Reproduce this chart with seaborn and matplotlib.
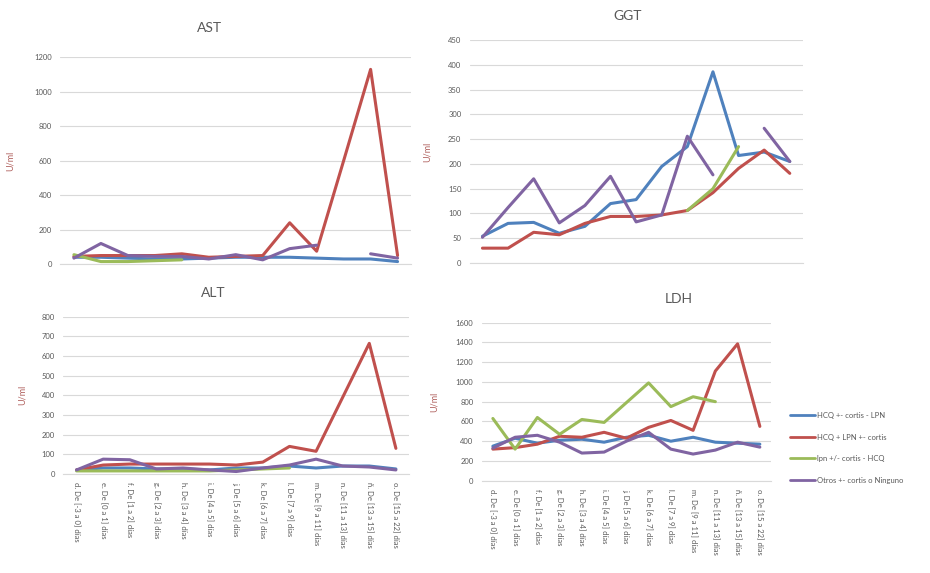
import numpy as np
import pandas as pd
import matplotlib
matplotlib.use("Agg")
import matplotlib.pyplot as plt
from matplotlib.lines import Line2D
import seaborn as sns

nan = np.nan

categories = ["d. De [-3 a 0] días", "e. De [0 a 1] días", "f. De [1 a 2] días",
              "g. De [2 a 3] días", "h. De [3 a 4] días", "i. De [4 a 5] días",
              "j. De [5 a 6] días", "k. De [6 a 7] días", "l. De [7 a 9] días",
              "m. De [9 a 11] días", "n. De [11 a 13] días", "ñ. De [13 a 15] días",
              "o. De [15 a 22] días"]

series_names = ["HCQ +- cortis - LPN", "HCQ + LPN +- cortis",
                "lpn +/- cortis - HCQ", "Otros +- cortis o Ninguno"]
series_colors = ["#4F81BD", "#C0504D", "#9BBB59", "#8064A2"]

ast_hcq = [40, 40, 35, 30, 30, 35, 40, 40, 40, 35, 30, 30, 15]
ast_hcq_lpn = [45, 50, 50, 50, 60, 40, 45, 50, 240, 75, 600, 1130, 50]
ast_lpn = [55, 15, 15, 20, 25, nan, nan, nan, nan, nan, nan, nan, nan]
ast_otros = [35, 120, 50, 45, 45, 30, 55, 25, 90, 110, nan, 60, 35]

ggt_hcq = [54, 80, 82, 60, 74, 120, 128, 195, 235, 386, 217, 224, 205]
ggt_hcq_lpn = [30, 30, 62, 57, 80, 94, 94, 97, 106, 142, 191, 228, 181]
ggt_lpn = [nan, nan, nan, nan, nan, nan, nan, nan, 106, 150, 235, nan, nan]
ggt_otros = [52, 112, 170, 81, 116, 175, 83, 97, 256, 178, nan, 272, 205]

alt_hcq = [20, 30, 30, 25, 25, 20, 30, 30, 40, 30, 40, 40, 25]
alt_hcq_lpn = [20, 45, 50, 50, 50, 50, 45, 60, 140, 115, 390, 665, 130]
alt_lpn = [15, 15, 15, 15, 15, 15, 20, 25, 30, nan, nan, nan, nan]
alt_otros = [20, 75, 72, 25, 30, 20, 12, 30, 45, 75, 40, 35, 20]

ldh_hcq = [350, 430, 380, 410, 420, 390, 440, 460, 400, 440, 390, 380, 370]
ldh_hcq_lpn = [320, 335, 370, 450, 440, 490, 430, 540, 610, 510, 1110, 1385, 550]
ldh_lpn = [630, 320, 640, 470, 620, 590, 790, 990, 750, 850, 800, nan, nan]
ldh_otros = [330, 440, 460, 390, 280, 290, 400, 490, 320, 270, 310, 390, 340]

sns.set_style("white")
plt.rcParams["font.family"] = ["Lato", "DejaVu Sans"]

text_color = "#595959"
grid_color = "#D9D9D9"


def to_long(series_list):
    # one row per point, with a segment id so gaps (NaN) break the line
    rows = []
    for name, values in zip(series_names, series_list):
        seg = 0
        for i, v in enumerate(values):
            if np.isnan(v):
                seg += 1
                continue
            rows.append({"x": i, "value": v, "serie": name, "seg": f"{name}-{seg}"})
    return pd.DataFrame(rows)


def draw(ax, series_list, ymax, ystep, show_x, ylab_x):
    df = to_long(series_list)
    sns.lineplot(data=df, x="x", y="value", hue="serie", units="seg",
                 estimator=None, palette=dict(zip(series_names, series_colors)),
                 hue_order=series_names, linewidth=2.2, legend=False, ax=ax)
    ax.set_xlim(-0.5, len(categories) - 0.5)
    ax.set_ylim(0, ymax)
    ax.set_yticks(np.arange(0, ymax + 1, ystep))
    ax.yaxis.grid(True, color=grid_color, linewidth=0.8)
    ax.set_axisbelow(True)
    for s in ["top", "right", "left"]:
        ax.spines[s].set_visible(False)
    ax.spines["bottom"].set_color(grid_color)
    ax.tick_params(axis="y", labelsize=5.5, labelcolor=text_color, length=0, pad=6)
    ax.set_xticks(range(len(categories)))
    if show_x:
        ax.set_xticklabels(categories, rotation=-90, fontsize=5.5, color=text_color)
        ax.tick_params(axis="x", length=0, pad=6)
    else:
        ax.set_xticklabels([])
        ax.tick_params(axis="x", length=0)
    ax.set_xlabel("")
    ax.set_ylabel("U/ml", fontsize=6.5, color="#B0605D")
    ax.yaxis.set_label_coords(ylab_x, 0.5)


fig = plt.figure(figsize=(9.3, 5.73), dpi=100)

ax_ast = fig.add_axes([0.065, 0.539, 0.377, 0.361])
ax_ggt = fig.add_axes([0.505, 0.541, 0.358, 0.389])
ax_alt = fig.add_axes([0.068, 0.173, 0.372, 0.274])
ax_ldh = fig.add_axes([0.518, 0.161, 0.311, 0.276])

draw(ax_ast, [ast_hcq, ast_hcq_lpn, ast_lpn, ast_otros], 1200, 200, False, -0.13)
draw(ax_ggt, [ggt_hcq, ggt_hcq_lpn, ggt_lpn, ggt_otros], 450, 50, False, -0.115)
draw(ax_alt, [alt_hcq, alt_hcq_lpn, alt_lpn, alt_otros], 800, 100, True, -0.105)
draw(ax_ldh, [ldh_hcq, ldh_hcq_lpn, ldh_lpn, ldh_otros], 1600, 200, True, -0.15)

fig.text(210 / 930, 1 - 28 / 573, "AST", ha="center", va="center", fontsize=10, color=text_color)
fig.text(628 / 930, 1 - 16 / 573, "GGT", ha="center", va="center", fontsize=10, color=text_color)
fig.text(213 / 930, 1 - 293 / 573, "ALT", ha="center", va="center", fontsize=10, color=text_color)
fig.text(679 / 930, 1 - 299 / 573, "LDH", ha="center", va="center", fontsize=10, color=text_color)

handles = [Line2D([], [], color=c, linewidth=2.0) for c in series_colors]
fig.legend(handles, series_names, loc="upper left",
           bbox_to_anchor=(787 / 930, 1 - 409 / 573), frameon=False,
           fontsize=5.5, labelcolor=text_color, handlelength=3.2,
           labelspacing=1.9, handletextpad=0.3, borderaxespad=0)

fig.savefig("out.png", dpi=100, facecolor="white")
